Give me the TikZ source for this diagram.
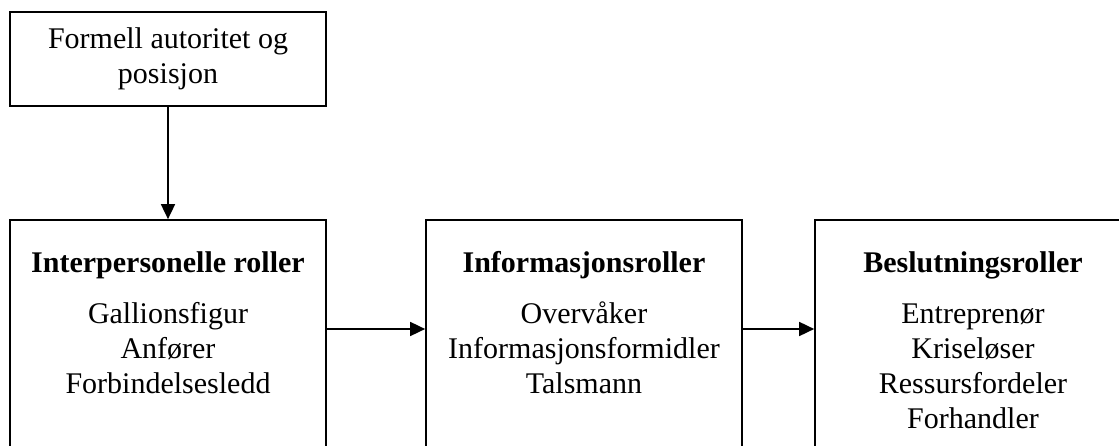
\documentclass[tikz,border=0pt]{standalone}
\usepackage{fontspec}
\setmainfont{Liberation Serif}
\usetikzlibrary{arrows.meta,calc}
\begin{document}
\begin{tikzpicture}[x=1pt,y=-1pt,
  boxstyle/.style={draw,line width=1.7pt,rectangle,inner sep=0pt,minimum width=316pt},
  titlestyle/.style={inner sep=0pt,anchor=base,font=\fontsize{30}{35}\selectfont\bfseries},
  bodystyle/.style={inner sep=0pt,anchor=north,align=center,font=\fontsize{30}{35}\selectfont},
  arrowstyle/.style={line width=1.7pt,-{Triangle[length=15pt,width=14pt]}}]
\useasboundingbox[clip] (0,0) rectangle (1119,446);
\node[boxstyle,minimum height=94pt,align=center,font=\fontsize{30}{35}\selectfont] (top) at (168,59) {Formell autoritet og\\posisjon};
\node[boxstyle,minimum height=280pt] (b1) at (168,360) {};
\node[boxstyle,minimum height=280pt] (b2) at (584,360) {};
\node[boxstyle,minimum height=280pt] (b3) at (973,360) {};
\node[titlestyle] (t1) at ($(b1.north)+(0,53)$) {Interpersonelle roller};
\node[titlestyle] (t2) at ($(b2.north)+(0,53)$) {Informasjonsroller};
\node[titlestyle] (t3) at ($(b3.north)+(0,53)$) {Beslutningsroller};
\node[bodystyle] (l1) at ($(b1.north)+(0,82)$) {\rule{0pt}{22pt}Gallionsfigur\\Anfører\\Forbindelsesledd};
\node[bodystyle] (l2) at ($(b2.north)+(0,82)$) {\rule{0pt}{22pt}Overvåker\\Informasjonsformidler\\Talsmann};
\node[bodystyle] (l3) at ($(b3.north)+(0,82)$) {\rule{0pt}{22pt}Entreprenør\\Kriseløser\\Ressursfordeler\\Forhandler};
\coordinate (ay) at (0,329);
\draw[arrowstyle] (top.south) -- (b1.north);
\draw[arrowstyle] (b1.east |- ay) -- (b2.west |- ay);
\draw[arrowstyle] (b2.east |- ay) -- (b3.west |- ay);
\end{tikzpicture}
\end{document}
